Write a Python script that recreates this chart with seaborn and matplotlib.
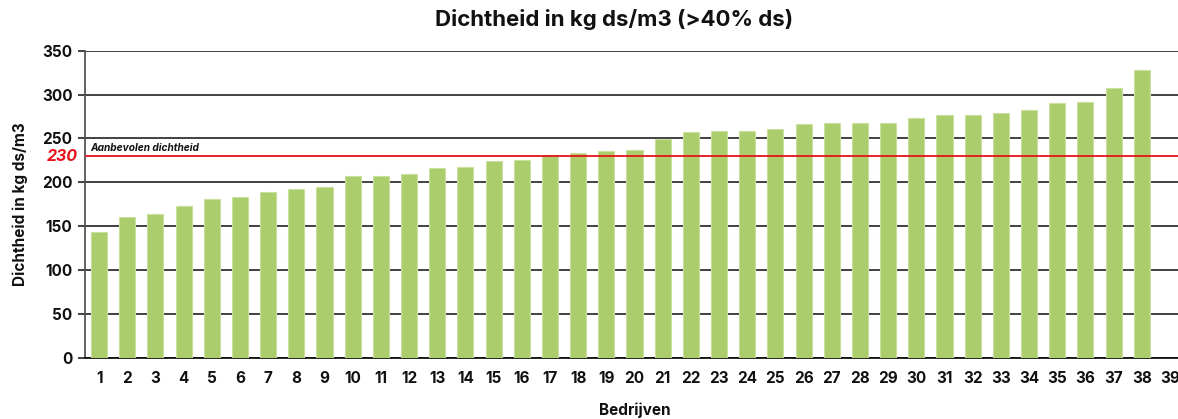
import matplotlib
matplotlib.use("Agg")
import matplotlib.pyplot as plt
import matplotlib.transforms as mtransforms
import seaborn as sns
import pandas as pd

categories = [str(i) for i in range(1, 39)]
all_labels = [str(i) for i in range(1, 40)]
values = [144, 161, 164, 173, 181, 183, 189, 193, 195, 207,
          207, 209, 216, 217, 224, 226, 231, 234, 236, 237,
          249, 257, 258, 258, 261, 267, 268, 268, 268, 273,
          277, 277, 279, 283, 290, 292, 307, 328]
yticks = [0, 50, 100, 150, 200, 250, 300, 350]
threshold = 230

sns.set_theme(style="white")
plt.rcParams['font.family'] = ['Inter', 'DejaVu Sans']
plt.rcParams['font.weight'] = 'bold'
plt.rcParams['text.color'] = '#111111'
plt.rcParams['axes.labelcolor'] = '#111111'
plt.rcParams['xtick.color'] = '#111111'
plt.rcParams['ytick.color'] = '#111111'

fig = plt.figure(figsize=(11.78, 4.19), dpi=100)
ax = fig.add_axes([85/1178, (419-358)/419, (1184-85)/1178, (358-50.7)/419])

df = pd.DataFrame({"Bedrijf": categories, "Dichtheid": values})
sns.barplot(data=df, x="Bedrijf", y="Dichtheid", order=all_labels, color="#abcd6b",
            saturation=1, width=0.57, edgecolor="#c9e0a0", linewidth=0.8, ax=ax, zorder=3)

ax.set_ylim(0, 350)
ax.set_xlim(-0.5, 38.5)
ax.set_yticks(yticks)
ax.yaxis.grid(True, color="#333333", linewidth=1.3, zorder=0)
ax.set_axisbelow(True)
for s in ["top", "right"]:
    ax.spines[s].set_visible(False)
ax.spines["left"].set_color("#555555")
ax.spines["left"].set_linewidth(1.3)
ax.spines["bottom"].set_color("#111111")
ax.spines["bottom"].set_linewidth(1.3)
ax.tick_params(axis="y", left=True, length=5, width=1.3, color="#333333", labelsize=11, pad=4,
               labelcolor="#111111")
ax.tick_params(axis="x", bottom=False, labelsize=11, pad=3, labelcolor="#111111")
for lab in ax.get_xticklabels() + ax.get_yticklabels():
    lab.set_fontweight("bold")

ax.axhline(threshold, color="#e8111b", linewidth=1.3, zorder=4)
trans = mtransforms.blended_transform_factory(ax.transAxes, ax.transData)
ax.text(-0.007, threshold, str(threshold), transform=trans, ha="right", va="center",
        color="#e8111b", fontsize=11.5, fontweight="bold", fontstyle="italic")
ax.text(0.005, threshold + 3, "Aanbevolen dichtheid", transform=trans, ha="left", va="bottom",
        color="#111111", fontsize=7.3, fontweight="bold", fontstyle="italic")

ax.set_xlabel("Bedrijven", fontsize=11, fontweight="bold", labelpad=12, color="#111111")
ax.set_ylabel("Dichtheid in kg ds/m3", fontsize=11, fontweight="bold", labelpad=10, color="#111111")
fig.text(614/1178, 1 - 20/419, "Dichtheid in kg ds/m3 (>40% ds)", ha="center", va="center",
         fontsize=16, fontweight="bold", color="#111111")

fig.savefig("out.png", dpi=100)
